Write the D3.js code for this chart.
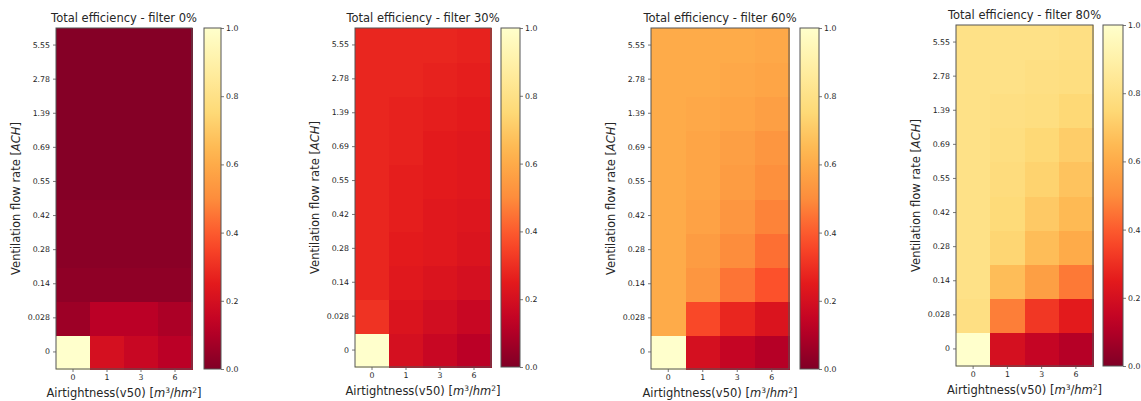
<!DOCTYPE html>
<html>
<head>
<meta charset="utf-8">
<script src="https://cdn.jsdelivr.net/npm/d3@7"></script>
<style>
  body { margin: 0; background: #fff; }
  text { font-family: "DejaVu Sans", sans-serif; fill: #262626; }
</style>
</head>
<body>
<script>
// heatmaps: total efficiency vs airtightness and ventilation rate, one per filter

const airtightness = ["0", "1", "3", "6"];
const ventilation  = ["0", "0.028", "0.14", "0.28", "0.42", "0.55", "0.69", "1.39", "2.78", "5.55"]; // bottom -> top
const filters      = ["0%", "30%", "60%", "80%"];
const cbTicks      = [0, 0.2, 0.4, 0.6, 0.8, 1.0];

// one row per ventilation rate (bottom -> top), columns = airtightness 0,1,3,6
const eff0 = [
  [1.00, 0.20, 0.16, 0.12],
  [0.06, 0.12, 0.12, 0.09],
  [0.03, 0.03, 0.03, 0.03],
  [0.02, 0.02, 0.02, 0.02],
  [0.02, 0.02, 0.02, 0.02],
  [0.01, 0.01, 0.01, 0.01],
  [0.01, 0.01, 0.01, 0.01],
  [0.01, 0.01, 0.01, 0.01],
  [0.01, 0.01, 0.01, 0.01],
  [0.01, 0.01, 0.01, 0.01]
];
const eff30 = [
  [1.00, 0.20, 0.16, 0.12],
  [0.31, 0.22, 0.19, 0.16],
  [0.28, 0.24, 0.22, 0.20],
  [0.28, 0.25, 0.24, 0.22],
  [0.28, 0.26, 0.24, 0.23],
  [0.28, 0.26, 0.25, 0.24],
  [0.28, 0.27, 0.25, 0.24],
  [0.28, 0.27, 0.26, 0.25],
  [0.28, 0.28, 0.27, 0.26],
  [0.28, 0.28, 0.28, 0.27]
];
const eff60 = [
  [1.00, 0.20, 0.15, 0.11],
  [0.60, 0.36, 0.28, 0.22],
  [0.60, 0.53, 0.45, 0.38],
  [0.60, 0.55, 0.50, 0.44],
  [0.60, 0.57, 0.53, 0.48],
  [0.60, 0.58, 0.55, 0.51],
  [0.60, 0.58, 0.56, 0.53],
  [0.60, 0.59, 0.58, 0.56],
  [0.60, 0.60, 0.59, 0.58],
  [0.60, 0.60, 0.60, 0.59]
];
const eff80 = [
  [1.00, 0.20, 0.15, 0.11],
  [0.79, 0.47, 0.32, 0.25],
  [0.80, 0.66, 0.56, 0.46],
  [0.80, 0.74, 0.66, 0.60],
  [0.80, 0.76, 0.70, 0.65],
  [0.80, 0.77, 0.73, 0.68],
  [0.80, 0.78, 0.75, 0.71],
  [0.80, 0.79, 0.78, 0.75],
  [0.80, 0.80, 0.79, 0.78],
  [0.80, 0.80, 0.80, 0.79]
];
const panelsData = [eff0, eff30, eff60, eff80];

// panel positions (heatmap box + colorbar)
const layout = [
  { x0: 56,  x1: 192,  y0: 28, y1: 369, cb0: 204,  cb1: 221 },
  { x0: 355, x1: 491,  y0: 28, y1: 367, cb0: 501,  cb1: 520 },
  { x0: 651, x1: 789,  y0: 28, y1: 369, cb0: 800,  cb1: 819 },
  { x0: 956, x1: 1093, y0: 25, y1: 366, cb0: 1103, cb1: 1123 }
];

// matplotlib YlOrRd_r: piecewise linear over the 9 brewer colours
const ramp = d3.piecewise(d3.interpolateRgb, d3.schemeYlOrRd[9].slice().reverse());
const color = v => ramp(Math.max(0, Math.min(1, v)));

const svg = d3.select("body").append("svg")
  .attr("width", 1141)
  .attr("height", 401);

const defs = svg.append("defs");
const grad = defs.append("linearGradient")
  .attr("id", "cbGrad")
  .attr("x1", 0).attr("y1", 1).attr("x2", 0).attr("y2", 0);
d3.range(0, 1.0001, 0.05).forEach(t => {
  grad.append("stop").attr("offset", t).attr("stop-color", color(t));
});

const frameColor = "#555";

panelsData.forEach((data, p) => {
  const L = layout[p];
  const g = svg.append("g");

  const x = d3.scaleBand().domain(airtightness).range([L.x0, L.x1]);
  const y = d3.scaleBand().domain(ventilation).range([L.y1, L.y0]);

  // cells
  const cells = [];
  data.forEach((row, r) => row.forEach((v, c) => cells.push({ r, c, v })));
  g.selectAll("rect.cell")
    .data(cells)
    .enter().append("rect")
    .attr("class", "cell")
    .attr("x", d => x(airtightness[d.c]))
    .attr("y", d => y(ventilation[d.r]))
    .attr("width", x.bandwidth() + 1)
    .attr("height", y.bandwidth() + 1)
    .attr("shape-rendering", "crispEdges")
    .attr("fill", d => color(d.v));

  // axes
  const xAxis = g.append("g")
    .attr("transform", `translate(0,${L.y1})`)
    .call(d3.axisBottom(x).tickSize(3).tickPadding(2));
  const yAxis = g.append("g")
    .attr("transform", `translate(${L.x0},0)`)
    .call(d3.axisLeft(y).tickSize(3).tickPadding(3));
  [xAxis, yAxis].forEach(a => {
    a.select(".domain").remove();
    a.selectAll("line").attr("stroke", frameColor).attr("stroke-width", 0.8);
    a.selectAll("text").style("font-size", "7.8px").style("font-family", "DejaVu Sans");
  });

  g.append("rect")
    .attr("x", L.x0).attr("y", L.y0)
    .attr("width", L.x1 - L.x0).attr("height", L.y1 - L.y0)
    .attr("fill", "none").attr("stroke", frameColor).attr("stroke-width", 1);

  // title
  g.append("text")
    .attr("x", (L.x0 + L.x1) / 2)
    .attr("y", L.y0 - 6)
    .attr("text-anchor", "middle")
    .style("font-size", "11.5px")
    .text(`Total efficiency - filter ${filters[p]}`);

  // y label
  const yl = g.append("text")
    .attr("transform", `translate(${L.x0 - 36},${(L.y0 + L.y1) / 2}) rotate(-90)`)
    .attr("text-anchor", "middle")
    .style("font-size", "11.5px");
  yl.append("tspan").text("Ventilation flow rate [");
  yl.append("tspan").style("font-style", "italic").text("ACH");
  yl.append("tspan").text("]");

  // x label
  const xl = g.append("text")
    .attr("x", (L.x0 + L.x1) / 2)
    .attr("y", L.y1 + 28)
    .attr("text-anchor", "middle")
    .style("font-size", "11.5px");
  xl.append("tspan").text("Airtightness(v50) [");
  xl.append("tspan").style("font-style", "italic").text("m");
  xl.append("tspan").attr("dy", -4).style("font-size", "7.5px").text("3");
  xl.append("tspan").attr("dy", 4).text("/");
  xl.append("tspan").style("font-style", "italic").text("hm");
  xl.append("tspan").attr("dy", -4).style("font-size", "7.5px").text("2");
  xl.append("tspan").attr("dy", 4).text("]");

  // colorbar
  const cy = d3.scaleLinear().domain([0, 1]).range([L.y1, L.y0]);
  g.append("rect")
    .attr("x", L.cb0).attr("y", L.y0)
    .attr("width", L.cb1 - L.cb0).attr("height", L.y1 - L.y0)
    .attr("fill", "url(#cbGrad)")
    .attr("stroke", frameColor).attr("stroke-width", 1);
  const cAxis = g.append("g")
    .attr("transform", `translate(${L.cb1},0)`)
    .call(d3.axisRight(cy).tickValues(cbTicks).tickFormat(d3.format(".1f")).tickSize(3).tickPadding(2));
  cAxis.select(".domain").remove();
  cAxis.selectAll("line").attr("stroke", frameColor).attr("stroke-width", 0.8);
  cAxis.selectAll("text").style("font-size", "7.8px").style("font-family", "DejaVu Sans");
});
</script>
</body>
</html>
